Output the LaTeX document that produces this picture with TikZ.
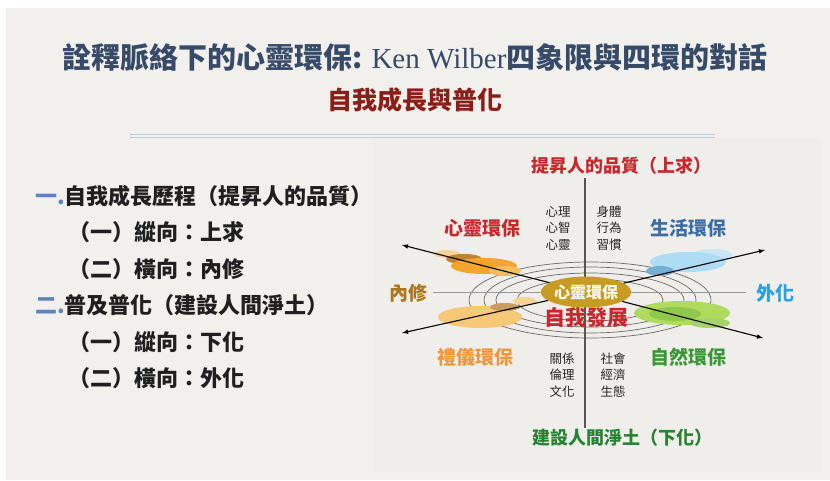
\documentclass[tikz,border=0pt]{standalone}
\usepackage{fontspec}
\usetikzlibrary{positioning,shapes.geometric}
\newfontfamily\cjk{Noto Sans CJK TC}
\newfontfamily\kenfont{Liberation Serif}

\definecolor{paper}{RGB}{242,240,236}
\definecolor{panel}{RGB}{239,238,234}
\definecolor{titleblue}{RGB}{55,75,105}
\definecolor{titlered}{RGB}{140,30,25}
\definecolor{numblue}{RGB}{95,130,185}
\definecolor{rulegray}{RGB}{195,203,215}
\definecolor{axisgray}{RGB}{85,85,85}
\definecolor{ringgray}{RGB}{105,105,105}
\definecolor{tagred}{RGB}{200,40,45}
\definecolor{lifeblue}{RGB}{60,110,165}
\definecolor{ingold}{RGB}{170,120,30}
\definecolor{outblue}{RGB}{40,160,225}
\definecolor{riteorange}{RGB}{240,150,60}
\definecolor{naturegreen}{RGB}{60,150,55}
\definecolor{landgreen}{RGB}{40,130,50}
\definecolor{coregold}{RGB}{200,155,35}
\definecolor{blobor}{RGB}{244,165,45}
\definecolor{blobbrown}{RGB}{190,130,55}
\definecolor{blobtan}{RGB}{246,200,120}
\definecolor{blobsky}{RGB}{175,220,245}
\definecolor{blobblue}{RGB}{115,175,215}
\definecolor{blobgreen}{RGB}{175,220,95}
\definecolor{blobleaf}{RGB}{125,190,45}

\tikzstyle{item}=[anchor=west, inner sep=0pt, font=\cjk\bfseries\fontsize{22}{26}\selectfont, text=black!88]
\tikzstyle{tag}=[inner sep=0pt, font=\cjk\bfseries\fontsize{19}{22}\selectfont]
\tikzstyle{note}=[inner sep=0pt, align=center, font=\cjk\fontsize{12.5}{16.5}\selectfont, text=black!85]
\tikzstyle{ring}=[draw=ringgray, line width=0.7pt]
\tikzstyle{axis}=[draw=axisgray, line width=1.3pt]
\tikzstyle{arrow2}=[line width=1.1pt,->,>=latex]

\begin{document}
\begin{tikzpicture}[x=1pt, y=-1pt, node distance=36.5pt]
\useasboundingbox (0,0) rectangle (830,480);
\fill[white] (0,0) rectangle (830,480);
\fill[paper] (6,8) rectangle (830,480);
\fill[panel] (373,138) rectangle (822,472);

\node (title) [inner sep=0pt, text=titleblue, font=\cjk\bfseries\fontsize{29}{32}\selectfont] at (415,57) {詮釋脈絡下的心靈環保: {\kenfont\mdseries Ken Wilber}四象限與四環的對話};
\node (subtitle) [inner sep=0pt, text=titlered, font=\cjk\bfseries\fontsize{25}{28}\selectfont] at (415,100) {自我成長與普化};
\draw[rulegray, line width=0.8pt] (130,134) -- (715,134);
\draw[rulegray, line width=0.8pt] (130,137) -- (715,137);

\node (l1) [item] at (35,196) {\textcolor{numblue}{一.}自我成長歷程（提昇人的品質）};
\node (l1a) [item, below=of l1.west, anchor=west, xshift=33pt] {（一）縱向：上求};
\node (l1b) [item, below=of l1a.west, anchor=west] {（二）橫向：內修};
\node (l2) [item, below=of l1b.west, anchor=west, xshift=-33pt] {\textcolor{numblue}{二.}普及普化（建設人間淨土）};
\node (l2a) [item, below=of l2.west, anchor=west, xshift=33pt] {（一）縱向：下化};
\node (l2b) [item, below=of l2a.west, anchor=west] {（二）橫向：外化};

\foreach \rx/\ry in {121/38,106/33,94/27,73/21}
  \draw[ring] (590,300) ellipse [x radius=\rx, y radius=\ry];
\draw[axis] (585,178) -- (585,428);
\draw[axis, draw=axisgray!60, line width=1pt] (433,292) -- (746,292);

\fill[blobtan!80] (447,254) ellipse [x radius=13, y radius=4];
\fill[blobbrown] (464,259) ellipse [x radius=18, y radius=5];
\fill[blobor] (484,266) ellipse [x radius=33, y radius=8];
\fill[blobor!75] (505,271) ellipse [x radius=16, y radius=5];
\fill[blobsky!70] (712,255) ellipse [x radius=20, y radius=6];
\fill[blobsky] (688,262) ellipse [x radius=38, y radius=10];
\fill[blobblue] (660,271) ellipse [x radius=14, y radius=5];
\fill[blobtan] (480,317) ellipse [x radius=42, y radius=11];
\fill[blobbrown!80] (505,307) ellipse [x radius=15, y radius=4];
\fill[blobtan!80] (525,301) ellipse [x radius=12, y radius=4];
\fill[blobgreen] (682,313) ellipse [x radius=48, y radius=12];
\fill[blobleaf!85] (675,314) ellipse [x radius=26, y radius=7];
\fill[blobleaf!70] (710,323) ellipse [x radius=20, y radius=5];

\node (core) [ellipse, fill=coregold, minimum width=88pt, minimum height=31pt, inner sep=0pt, text=white, font=\cjk\bfseries\fontsize{16}{18}\selectfont] at (586,292) {心靈環保};
\coordinate (ul) at (402,245);
\coordinate (ur) at (765,250);
\coordinate (ll) at (402,333);
\coordinate (lr) at (763,338);
\draw[arrow2] (core) -- (ul);
\draw[arrow2] (core) -- (ur);
\draw[arrow2] (core) -- (ll);
\draw[arrow2] (core) -- (lr);

\node (up) [tag, text=tagred, font=\cjk\bfseries\fontsize{18}{22}\selectfont] at (621,166) {提昇人的品質（上求）};
\node (down) [tag, text=landgreen, font=\cjk\bfseries\fontsize{18}{22}\selectfont] at (622,438) {建設人間淨土（下化）};
\node (mind) [tag, text=tagred] at (482,228) {心靈環保};
\node (life) [tag, text=lifeblue] at (688,228) {生活環保};
\node (rite) [tag, text=riteorange] at (475,357) {禮儀環保};
\node (nature) [tag, text=naturegreen] at (688,357) {自然環保};
\node (inner) [tag, text=ingold] at (408,293) {內修};
\node (outer) [tag, text=outblue] at (775,293) {外化};
\node (self) [tag, text=tagred, font=\cjk\bfseries\fontsize{21}{24}\selectfont] at (586,318) {自我發展};

\node (n1) [note] at (558,228) {心理\\心智\\心靈};
\node (n2) [note] at (609,228) {身體\\行為\\習慣};
\node (n3) [note] at (562,375) {關係\\倫理\\文化};
\node (n4) [note] at (613,375) {社會\\經濟\\生態};
\end{tikzpicture}
\end{document}
